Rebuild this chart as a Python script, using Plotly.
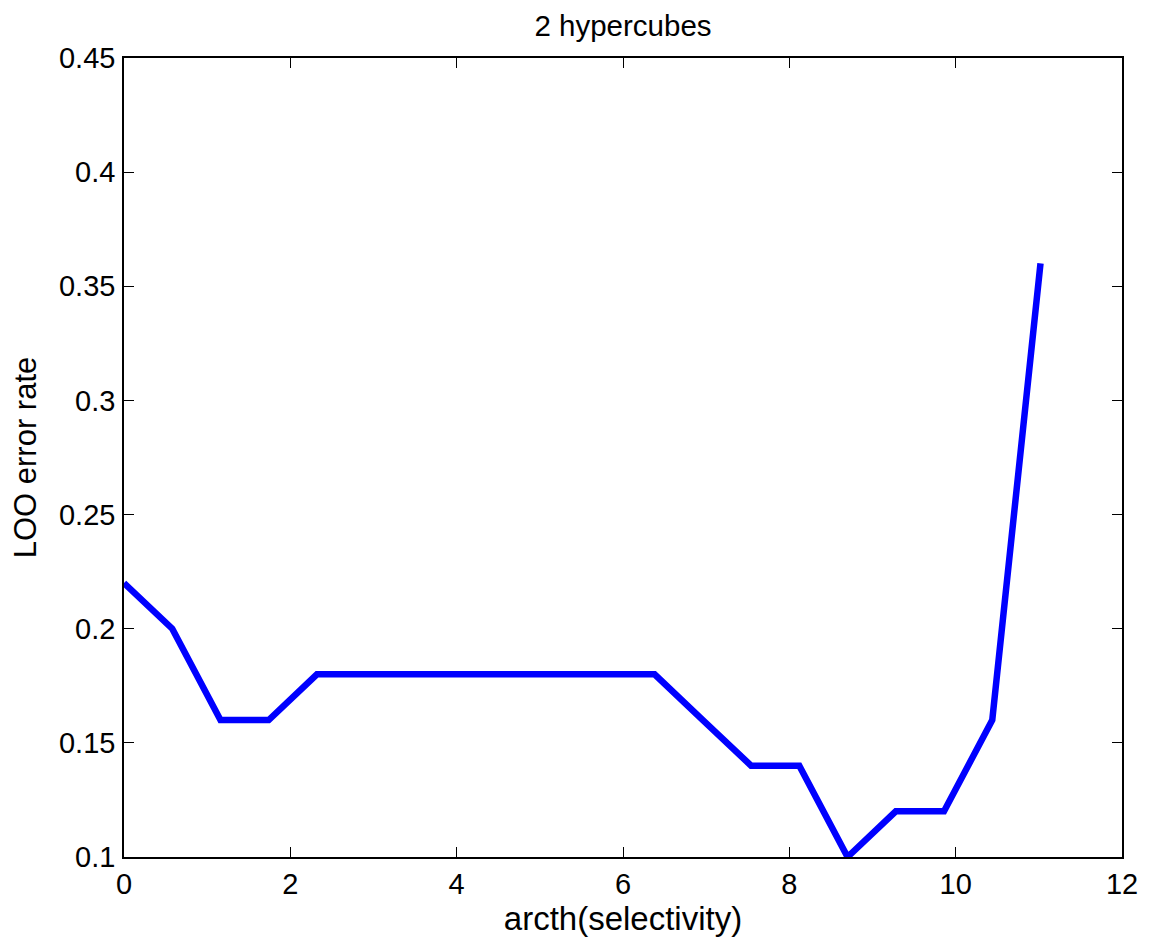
import plotly.graph_objects as go

x_vals = [0.0, 0.58, 1.16, 1.74, 2.32, 2.90, 3.48, 4.06, 4.64, 5.22, 5.80, 6.38,
          6.96, 7.54, 8.12, 8.70, 9.28, 9.86, 10.44, 11.02]
loo_error = [0.22, 0.20, 0.16, 0.16, 0.18, 0.18, 0.18, 0.18, 0.18, 0.18, 0.18, 0.18,
             0.16, 0.14, 0.14, 0.10, 0.12, 0.12, 0.16, 0.36]
x_ticks = [0, 2, 4, 6, 8, 10, 12]
y_ticks = [0.1, 0.15, 0.2, 0.25, 0.3, 0.35, 0.4, 0.45]
y_tick_labels = ["0.1", "0.15", "0.2", "0.25", "0.3", "0.35", "0.4", "0.45"]

FONT = "Liberation Sans, Arial, Helvetica, sans-serif"

# The page body has an 8px default margin, so the figure is offset by 8px;
# size and margins compensate so the plot area lands where the reference has it.
W, H = 1142, 933

fig = go.Figure()
fig.add_trace(go.Scatter(x=x_vals, y=loo_error, mode="lines",
                         line=dict(color="#0000FF", width=6.5),
                         showlegend=False, hoverinfo="x+y"))

axis_common = dict(showline=True, linecolor="black", linewidth=1.5, mirror="ticks",
                   ticks="inside", ticklen=10, tickwidth=1.3, tickcolor="black",
                   showgrid=False, zeroline=False, automargin=False,
                   tickfont=dict(family=FONT, size=29, color="black"))

fig.update_layout(
    width=W, height=H,
    margin=dict(l=116, r=28, t=50, b=84),
    paper_bgcolor="white", plot_bgcolor="white",
    title=dict(text="2 hypercubes", x=0.5, xref="paper", xanchor="center",
               y=1 - 18 / H, yref="container", yanchor="middle",
               font=dict(family=FONT, size=29.5, color="black")),
    xaxis=dict(range=[0, 12], tickvals=x_ticks, ticklabelstandoff=0,
               title=dict(text="arcth(selectivity)", standoff=2,
                          font=dict(family=FONT, size=33, color="black")),
               **axis_common),
    yaxis=dict(range=[0.1, 0.45], tickvals=y_ticks, ticktext=y_tick_labels,
               ticklabelstandoff=1,
               title=dict(text="LOO error rate", standoff=17,
                          font=dict(family=FONT, size=31, color="black")),
               **axis_common),
)

fig.write_html("out.html")
